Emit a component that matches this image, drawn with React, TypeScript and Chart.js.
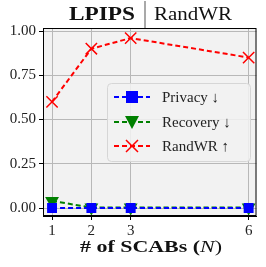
import React, { useEffect, useRef } from "react";
import { Chart, registerables } from "chart.js";
Chart.register(...registerables);

const xValues = [1, 2, 3, 6];
const privacy = [0.0, 0.0, 0.0, 0.0];
const recovery = [0.04, 0.003, 0.003, 0.003];
const randwr = [0.6, 0.9, 0.96, 0.85];
const yTicks = [0, 0.25, 0.5, 0.75, 1.0];
const seriesNames = ["Privacy \u2193", "Recovery \u2193", "RandWR \u2191"];
const titleBold = "LPIPS";
const titleRest = "RandWR";

const FONT = "'Liberation Serif', 'DejaVu Serif', serif";

function fitText(ctx: any, text: string, font: string, x: number, y: number, width: number) {
  ctx.save();
  ctx.font = font;
  const w = ctx.measureText(text).width;
  ctx.translate(x, y);
  ctx.scale(width / w, 1);
  ctx.fillText(text, 0, 0);
  ctx.restore();
}

const overlay = {
  id: "overlay",
  beforeDraw(chart: any) {
    const { ctx, chartArea: a } = chart;
    ctx.save();
    ctx.fillStyle = "#f2f2f2";
    ctx.fillRect(a.left, a.top, a.right - a.left, a.bottom - a.top);
    ctx.restore();
  },
  afterDatasetsDraw(chart: any) {
    const { ctx, chartArea: a } = chart;
    ctx.save();
    ctx.strokeStyle = "#000";
    ctx.lineWidth = 1;
    ctx.strokeRect(a.left + 0.5, a.top + 0.5, a.right - a.left - 1, a.bottom - a.top - 1);
    // title
    ctx.fillStyle = "#111";
    ctx.textBaseline = "alphabetic";
    fitText(ctx, titleBold, `bold 18px ${FONT}`, 69, 20, 66);
    ctx.fillStyle = "#555";
    ctx.fillRect(144.5, 1, 1, 27);
    ctx.fillStyle = "#111";
    fitText(ctx, titleRest, `18px ${FONT}`, 154, 20, 78);
    // x axis title
    const parts: [string, string][] = [
      ["# of SCABs (", `bold 17px ${FONT}`],
      ["N", `italic 17px ${FONT}`],
      [")", `17px ${FONT}`],
    ];
    let tw = 0;
    for (const [t, f] of parts) { ctx.font = f; tw += ctx.measureText(t).width; }
    const sx = 142 / tw;
    ctx.save();
    ctx.translate(80, 252);
    ctx.scale(sx, 1);
    let x = 0;
    for (const [t, f] of parts) { ctx.font = f; ctx.fillText(t, x, 0); x += ctx.measureText(t).width; }
    ctx.restore();
    // legend
    const lx = 107, ly = 83, lw = 143, lh = 78;
    ctx.beginPath();
    ctx.roundRect(lx + 0.5, ly + 0.5, lw, lh, 4);
    ctx.fillStyle = "rgba(242,242,242,0.85)";
    ctx.fill();
    ctx.strokeStyle = "#d6d6d6";
    ctx.lineWidth = 1;
    ctx.stroke();
    const rows = [97, 122, 146];
    chart.data.datasets.forEach((ds: any, i: number) => {
      const y = rows[i];
      ctx.strokeStyle = ds.borderColor;
      ctx.lineWidth = 2;
      ctx.setLineDash([5, 3]);
      ctx.beginPath();
      ctx.moveTo(114, y);
      ctx.lineTo(150, y);
      ctx.stroke();
      ctx.setLineDash([]);
      const cx = 132;
      ctx.fillStyle = ds.backgroundColor;
      if (i === 0) {
        ctx.fillRect(cx - 6, y - 6, 12, 12);
      } else if (i === 1) {
        ctx.beginPath();
        ctx.moveTo(cx - 7, y - 6);
        ctx.lineTo(cx + 7, y - 6);
        ctx.lineTo(cx, y + 7);
        ctx.closePath();
        ctx.fill();
      } else {
        ctx.lineWidth = 1.5;
        ctx.beginPath();
        ctx.moveTo(cx - 6, y - 6); ctx.lineTo(cx + 6, y + 6);
        ctx.moveTo(cx + 6, y - 6); ctx.lineTo(cx - 6, y + 6);
        ctx.stroke();
      }
      ctx.fillStyle = "#222";
      ctx.font = `15px ${FONT}`;
      ctx.textBaseline = "middle";
      ctx.fillText(seriesNames[i], 162, y + 1);
      ctx.textBaseline = "alphabetic";
    });
    ctx.restore();
  },
};

export default function App() {
  const ref = useRef<HTMLCanvasElement>(null);
  useEffect(() => {
    document.body.style.margin = "0";
    const mk = (ys: number[]) => xValues.map((x, i) => ({ x, y: ys[i] }));
    const chart = new Chart(ref.current!, {
      type: "line",
      data: {
        datasets: [
          {
            label: seriesNames[0], data: mk(privacy), borderColor: "#0000ff", backgroundColor: "#0000ff",
            borderDash: [5, 3], borderWidth: 2, pointStyle: "rect", pointRadius: 7, pointBorderWidth: 0,
          },
          {
            label: seriesNames[1], data: mk(recovery), borderColor: "#008000", backgroundColor: "#008000",
            borderDash: [5, 3], borderWidth: 2, pointStyle: "triangle", pointRadius: 8, pointRotation: 180, pointBorderWidth: 0,
          },
          {
            label: seriesNames[2], data: mk(randwr), borderColor: "#ff0000", backgroundColor: "#ff0000",
            borderDash: [5, 3], borderWidth: 2, pointStyle: "cross", pointRotation: 45, pointRadius: 8, pointBorderWidth: 1.5,
          },
        ] as any,
      },
      options: {
        animation: false,
        responsive: false,
        layout: { padding: { top: 28, right: 9, left: 0, bottom: 0 } },
        plugins: { legend: { display: false }, title: { display: false }, tooltip: { enabled: false } },
        scales: {
          x: {
            type: "linear", min: 0.77, max: 6.2,
            afterBuildTicks: (s: any) => { s.ticks = xValues.map((v) => ({ value: v })); },
            afterFit: (s: any) => { s.height = 51; },
            ticks: { color: "#222", font: { family: FONT, size: 15 }, padding: 2, callback: (v: any) => String(v) },
            grid: { color: "#b8b8b8", tickColor: "#000", tickLength: 4, drawTicks: true },
            border: { color: "#000" },
          },
          y: {
            type: "linear", min: -0.045, max: 1.017,
            afterBuildTicks: (s: any) => { s.ticks = yTicks.map((v) => ({ value: v })); },
            afterFit: (s: any) => { s.width = 43; },
            ticks: { color: "#222", font: { family: FONT, size: 15 }, padding: 3, callback: (v: any) => Number(v).toFixed(2) },
            grid: { color: "#b8b8b8", tickColor: "#000", tickLength: 4, drawTicks: true },
            border: { color: "#000" },
          },
        },
      },
      plugins: [overlay],
    });
    return () => chart.destroy();
  }, []);
  return (
    <div style={{ position: "absolute", left: 0, top: 0 }}>
      <canvas ref={ref} width={266} height={267} style={{ display: "block" }} />
    </div>
  );
}
